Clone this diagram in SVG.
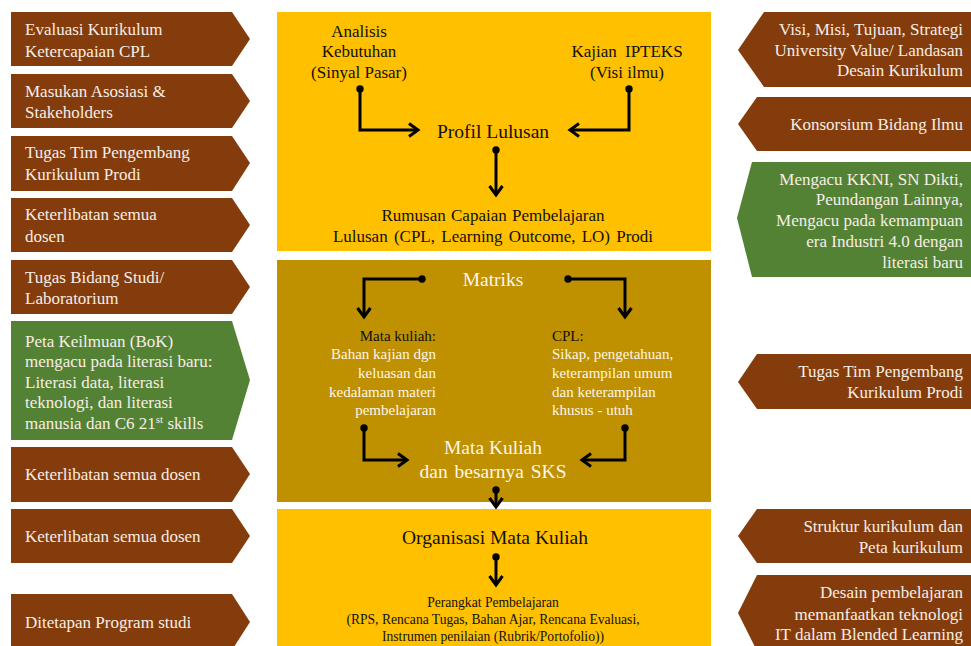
<svg xmlns="http://www.w3.org/2000/svg" width="971" height="646" viewBox="0 0 971 646">
<style>
.br{fill:#843c0c}
.gr{fill:#548235}
.gold{fill:#ffc000}
.dgold{fill:#bf9000}
text{font-family:"Liberation Serif","Times New Roman",serif}
.lt{fill:#f6eee6;font-size:17px}
.rt{fill:#f6eee6;font-size:17px;text-anchor:end}
.ct{fill:#111;font-size:17px;text-anchor:middle}
.big{font-size:19.5px}
.wt{fill:#fdf6ea}
.sm{font-size:15px}
.xs{font-size:13.6px}
.con{fill:none;stroke:#000;stroke-width:3;marker-start:url(#dot);marker-end:url(#arr)}
</style>
<defs>
<marker id="arr" markerUnits="userSpaceOnUse" markerWidth="16" markerHeight="18" refX="10" refY="8" orient="auto" viewBox="0 0 16 16">
<path d="M1,1.5 L10,8 L1,14.5" fill="none" stroke="#000" stroke-width="3"/>
</marker>
<marker id="dot" markerUnits="userSpaceOnUse" markerWidth="10" markerHeight="10" refX="5" refY="5" viewBox="0 0 10 10">
<circle cx="5" cy="5" r="3.7" fill="#000"/>
</marker>
</defs>

<g id="left1"><polygon class="br" points="11,12 232,12 250,39 232,66 11,66"/><text class="lt" x="25" y="35">Evaluasi Kurikulum</text><text class="lt" x="25" y="57">Ketercapaian CPL</text></g>
<g id="left2"><polygon class="br" points="11,74 232,74 250,101 232,128 11,128"/><text class="lt" x="25" y="97">Masukan Asosiasi &amp;</text><text class="lt" x="25" y="118">Stakeholders</text></g>
<g id="left3"><polygon class="br" points="11,136 232,136 250,163 232,191 11,191"/><text class="lt" x="25" y="158">Tugas Tim Pengembang</text><text class="lt" x="25" y="180">Kurikulum Prodi</text></g>
<g id="left4"><polygon class="br" points="11,198 232,198 250,225 232,252 11,252"/><text class="lt" x="25" y="220">Keterlibatan semua</text><text class="lt" x="25" y="242">dosen</text></g>
<g id="left5"><polygon class="br" points="11,260 232,260 250,287 232,314 11,314"/><text class="lt" x="25" y="283">Tugas Bidang Studi/</text><text class="lt" x="25" y="304">Laboratorium</text></g>
<g id="left6"><polygon class="gr" points="11,321 232,321 250,380 232,440 11,440"/>
<text class="lt" x="25" y="347">Peta Keilmuan (BoK)</text>
<text class="lt" x="25" y="367">mengacu pada literasi baru:</text>
<text class="lt" x="25" y="388">Literasi data, literasi</text>
<text class="lt" x="25" y="408">teknologi, dan literasi</text>
<text class="lt" x="25" y="429">manusia dan C6 21<tspan font-size="11" dy="-6">st</tspan><tspan dy="6"> skills</tspan></text></g>
<g id="left7"><polygon class="br" points="11,447 232,447 250,474 232,502 11,502"/><text class="lt" x="25" y="480">Keterlibatan semua dosen</text></g>
<g id="left8"><polygon class="br" points="11,509 232,509 250,536 232,563 11,563"/><text class="lt" x="25" y="542">Keterlibatan semua dosen</text></g>
<g id="left9"><polygon class="br" points="11,594 232,594 250,622 232,650 11,650"/><text class="lt" x="25" y="628">Ditetapan Program studi</text></g>

<g id="right1"><polygon class="br" points="764,12 971,12 971,87 764,87 738,50"/><text class="rt" x="963" y="35">Visi, Misi, Tujuan, Strategi</text><text class="rt" x="963" y="56">University Value/ Landasan</text><text class="rt" x="963" y="76">Desain Kurikulum</text></g>
<g id="right2"><polygon class="br" points="757,97 971,97 971,151 757,151 738,124"/><text class="rt" x="963" y="130">Konsorsium Bidang Ilmu</text></g>
<g id="right3"><polygon class="gr" points="752,162 971,162 971,277 752,277 737,218"/>
<text class="rt" x="963" y="185">Mengacu KKNI, SN Dikti,</text>
<text class="rt" x="963" y="205">Peundangan Lainnya,</text>
<text class="rt" x="963" y="226">Mengacu pada kemampuan</text>
<text class="rt" x="963" y="247">era Industri 4.0 dengan</text>
<text class="rt" x="963" y="268">literasi baru</text></g>
<g id="right4"><polygon class="br" points="757,354 971,354 971,409 757,409 738,382"/><text class="rt" x="963" y="377">Tugas Tim Pengembang</text><text class="rt" x="963" y="398">Kurikulum Prodi</text></g>
<g id="right5"><polygon class="br" points="757,509 971,509 971,563 757,563 738,536"/><text class="rt" x="963" y="532">Struktur kurikulum dan</text><text class="rt" x="963" y="553">Peta kurikulum</text></g>
<g id="right6"><polygon class="br" points="757,575 971,575 971,651 757,651 738,613"/><text class="rt" x="963" y="598">Desain pembelajaran</text><text class="rt" x="963" y="620">memanfaatkan teknologi</text><text class="rt" x="963" y="640">IT dalam Blended Learning</text></g>

<g id="box-top"><rect class="gold" x="277" y="12" width="434" height="239"/>
<text class="ct" x="359" y="37">Analisis</text><text class="ct" x="359" y="57">Kebutuhan</text><text class="ct" x="359" y="78">(Sinyal Pasar)</text>
<text class="ct" x="627" y="57" word-spacing="4">Kajian IPTEKS</text><text class="ct" x="627" y="78">(Visi ilmu)</text>
<text class="ct big" x="493" y="138">Profil Lulusan</text>
<text class="ct" x="493" y="221" word-spacing="1">Rumusan Capaian Pembelajaran</text>
<text class="ct" x="493" y="242" word-spacing="2">Lulusan (CPL, Learning Outcome, LO) Prodi</text></g>

<g id="box-mid"><rect class="dgold" x="277" y="260" width="434" height="242"/>
<text class="ct big wt" x="493" y="286">Matriks</text>
<text class="sm" x="436" y="341" text-anchor="end" fill="#111">Mata kuliah:</text>
<text class="sm wt" x="436" y="359" text-anchor="end">Bahan kajian dgn</text>
<text class="sm wt" x="436" y="378" text-anchor="end">keluasan dan</text>
<text class="sm wt" x="436" y="397" text-anchor="end">kedalaman materi</text>
<text class="sm wt" x="436" y="415" text-anchor="end">pembelajaran</text>
<text class="sm" x="552" y="341" fill="#111">CPL:</text>
<text class="sm wt" x="552" y="359">Sikap, pengetahuan,</text>
<text class="sm wt" x="552" y="378">keterampilan umum</text>
<text class="sm wt" x="552" y="397">dan keterampilan</text>
<text class="sm wt" x="552" y="415">khusus - utuh</text>
<text class="ct big wt" x="493" y="454">Mata Kuliah</text>
<text class="ct big wt" x="493" y="478" word-spacing="2">dan besarnya SKS</text></g>

<g id="box-bot"><rect class="gold" x="277" y="509" width="434" height="140"/>
<text class="ct big" x="495" y="544">Organisasi Mata Kuliah</text>
<text class="ct xs" x="493" y="607">Perangkat Pembelajaran</text>
<text class="ct xs" x="493" y="624">(RPS, Rencana Tugas, Bahan Ajar, Rencana Evaluasi,</text>
<text class="ct xs" x="493" y="641">Instrumen penilaian (Rubrik/Portofolio))</text></g>

<g id="connectors">
<path class="con" d="M360,89 V130 H418"/>
<path class="con" d="M629,89 V130 H570"/>
<path class="con" d="M496,150 V195"/>
<path class="con" d="M422,279 H364 V317"/>
<path class="con" d="M568,279 H625 V317"/>
<path class="con" d="M364,428 V460 H407"/>
<path class="con" d="M625,428 V460 H582"/>
<path class="con" d="M496,490 V507"/>
<path class="con" d="M496,557 V585"/>
</g>
</svg>
